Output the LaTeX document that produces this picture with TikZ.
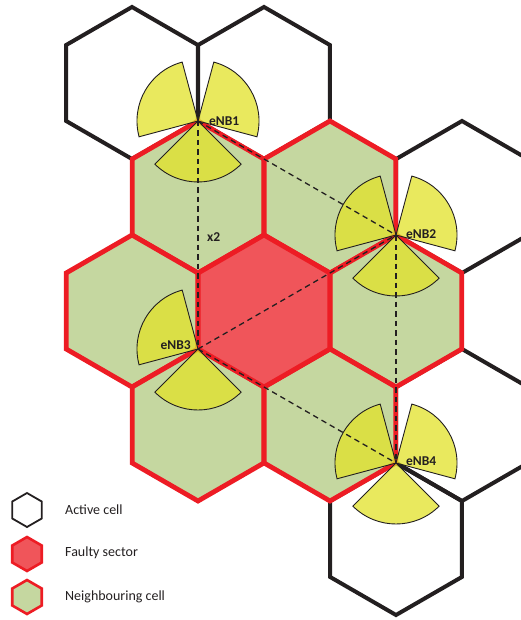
\documentclass[tikz,border=0pt]{standalone}
\usepackage{fontspec}
\setmainfont{Carlito}
\definecolor{cellblack}{RGB}{35,31,32}
\definecolor{cellred}{RGB}{237,28,36}
\definecolor{cellgreen}{RGB}{197,215,160}
\definecolor{faultred}{RGB}{240,85,90}
\definecolor{antyellow}{RGB}{226,226,40}
\begin{document}
\begin{tikzpicture}[
    x=1pt, y=-1pt,
    active/.style={draw=cellblack, line width=4pt},
    neighbour/.style={draw=cellred, fill=cellgreen, line width=4.8pt},
    faulty/.style={draw=cellred, fill=faultred, line width=4.8pt},
    sector/.style={draw=cellblack, line width=0.9pt, fill=antyellow, fill opacity=0.75},
    link/.style={draw=cellblack, line width=1.3pt, dash pattern=on 5.5pt off 4pt},
    enb/.style={font=\bfseries\fontsize{13.5}{15}\selectfont, inner sep=0pt, text=cellblack},
    legtext/.style={anchor=west, font=\fontsize{14}{16}\selectfont, inner sep=0pt, text=cellblack},
  ]
    \useasboundingbox (0,0) rectangle (521,620);
    \def\R{76}% hexagon radius
    \def\r{61}% sector radius
    % Active cells
    \foreach \x/\y in {132/83, 264/83, 462/197, 462/425, 396/539} {
      \draw[active, shift={(\x,\y)}] (30:\R) \foreach \a in {90,150,...,330} { -- (\a:\R) } -- cycle;
    }
    % Neighbouring cells round the faulty one
    \foreach \x/\y in {198/197, 330/197, 132/311, 396/311, 198/425, 330/425} {
      \draw[neighbour, shift={(\x,\y)}] (30:\R) \foreach \a in {90,150,...,330} { -- (\a:\R) } -- cycle;
    }
    \draw[faulty, shift={(264,311)}] (30:\R) \foreach \a in {90,150,...,330} { -- (\a:\R) } -- cycle;
    % eNB sites
    \coordinate (e1) at (198,121);
    \coordinate (e2) at (396,235);
    \coordinate (e3) at (198,349);
    \coordinate (e4) at (396,463);
    % Sectors: start angle, 90 deg wide (eNB3 lost its faulty sector)
    \foreach \b/\s in {e1/-105, e1/15, e1/-225, e2/-105, e2/15, e2/-225,
                       e3/-105, e3/-225, e4/-105, e4/15, e4/-225} {
      \draw[sector] (\b) -- ++(\s:\r) arc[start angle=\s, delta angle=-90, radius=\r] -- cycle;
    }
    % X2 links
    \draw[link] (e1) -- (e2);
    \draw[link] (e1) -- (e3);
    \draw[link] (e3) -- (e2);
    \draw[link] (e2) -- (e4);
    \draw[link] (e3) -- (e4);
    \path (e1) -- (e3) node[enb, pos=0.51, anchor=west, xshift=9pt] (x2) {x2};
    % Labels
    \node[enb, anchor=west] (l1) at ([xshift=11pt]e1) {eNB1};
    \node[enb, anchor=west] (l2) at ([xshift=10pt, yshift=1pt]e2) {eNB2};
    \node[enb, anchor=east] (l3) at ([xshift=-7pt, yshift=4pt]e3) {eNB3};
    \node[enb, anchor=west] (l4) at ([xshift=10pt, yshift=2pt]e4) {eNB4};
    % Legend
    \draw[cellblack, line width=1.8pt, shift={(27,510)}] (30:17) \foreach \a in {90,150,...,330} { -- (\a:17) } -- cycle;
    \draw[faulty, line width=2.6pt, shift={(27,554)}] (30:17) \foreach \a in {90,150,...,330} { -- (\a:17) } -- cycle;
    \draw[neighbour, line width=2.6pt, shift={(27,597)}] (30:17) \foreach \a in {90,150,...,330} { -- (\a:17) } -- cycle;
    \node[legtext] (t1) at (65,510) {Active cell};
    \node[legtext] (t2) at (65,553) {Faulty sector};
    \node[legtext] (t3) at (65,597) {Neighbouring cell};
\end{tikzpicture}
\end{document}
